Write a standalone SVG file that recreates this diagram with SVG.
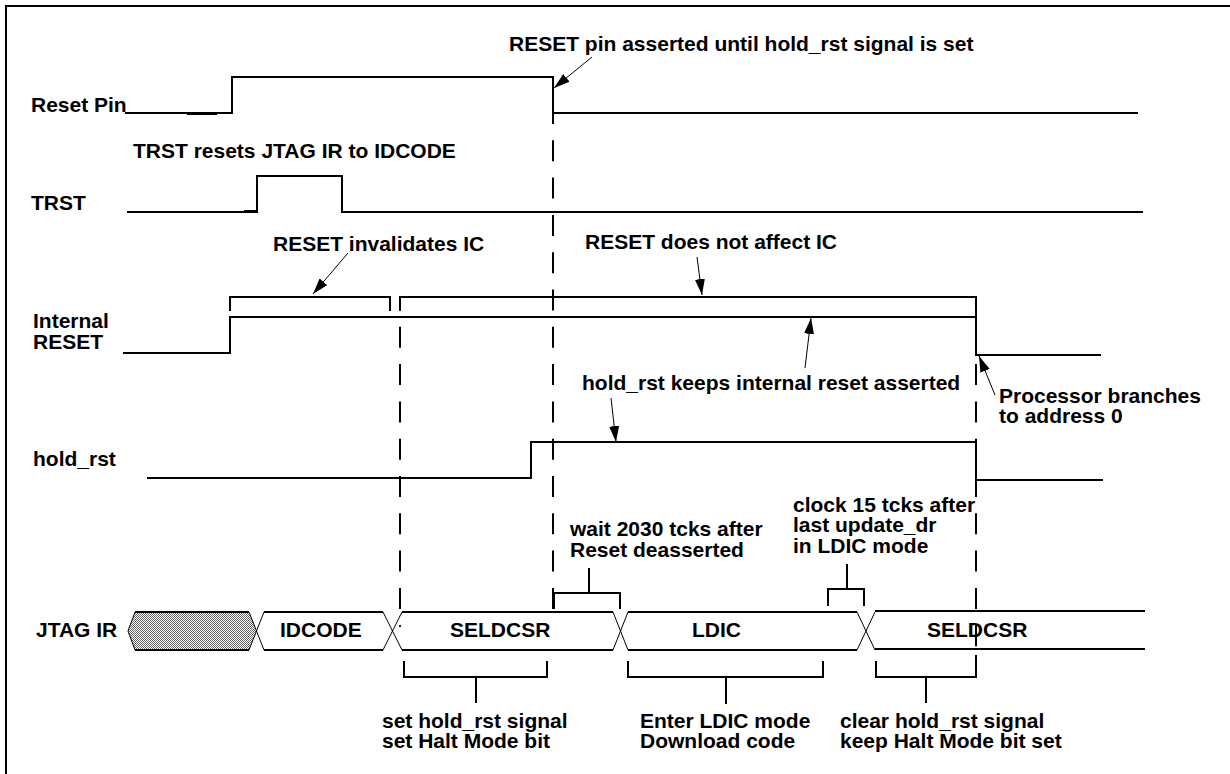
<svg xmlns="http://www.w3.org/2000/svg" width="1230" height="774" viewBox="0 0 1230 774">
<style>
text{font-family:"Liberation Sans",Arial,Helvetica,sans-serif;font-weight:bold;font-size:21px;fill:#000}
.sig{fill:none;stroke:#000;stroke-width:2}
.br{fill:none;stroke:#000;stroke-width:2}
.dash{fill:none;stroke:#000;stroke-width:2;stroke-dasharray:21 16.3}
.bus{fill:none;stroke:#000;stroke-width:2}
.x{fill:none;stroke:#000;stroke-width:1}
.arr{fill:none;stroke:#000;stroke-width:1;marker-end:url(#ah)}
</style>
<defs>
<marker id="ah" markerUnits="userSpaceOnUse" markerWidth="18" markerHeight="12" refX="16" refY="5" orient="auto">
<path d="M0,0 L16,5 L0,10 Z" fill="#000"/>
</marker>
<pattern id="dots" width="2" height="2" patternUnits="userSpaceOnUse">
<rect width="2" height="2" fill="#fff"/>
<rect width="1" height="1" fill="#666"/>
<rect x="1" y="1" width="1" height="1" fill="#666"/>
</pattern>
</defs>
<rect width="1230" height="774" fill="#fff"/>
<rect x="6" y="6" width="1240" height="800" fill="none" stroke="#000" stroke-width="2"/>

<g id="reset-pin">
<text x="31" y="112">Reset Pin</text>
<path class="sig" d="M125,113 H232 V77 H553 V113 H1138"/>
<line x1="187" y1="113.5" x2="217" y2="113.5" stroke="#000" stroke-width="3"/>
</g>

<g id="trst">
<text x="31" y="210">TRST</text>
<path class="sig" d="M127,212 H257 V176 H342 V212 H1143"/>
<line x1="244" y1="211.5" x2="256" y2="211.5" stroke="#000" stroke-width="3"/>
</g>

<g id="internal-reset">
<text x="33" y="328">Internal</text>
<text x="33" y="349">RESET</text>
<path class="sig" d="M123,353 H230 V317 H976 V355 H1101"/>
</g>

<g id="hold-rst">
<text x="33" y="466">hold_rst</text>
<path class="sig" d="M147,478 H531 V442 H976 V480 H1103"/>
</g>

<g id="jtag-ir">
<text x="36" y="637">JTAG IR</text>
<g id="bus-unknown">
<polygon points="128,631 135,612 249,612 256.5,631 249,650 135,650" fill="url(#dots)" stroke="none"/>
<path class="bus" d="M135,612 H249 M135,650 H249"/>
<path class="x" d="M135,612 L128,631 L135,650"/>
</g>
<g id="bus-idcode">
<path class="x" d="M249,612 L264,650 M249,650 L264,612"/>
<path class="bus" d="M264,612 H383 M264,650 H383"/>
<text x="280" y="637">IDCODE</text>
</g>
<g id="bus-seldcsr1">
<path class="x" d="M383,612 L402,650 M383,650 L402,612"/>
<path class="bus" d="M402,612 H613 M402,650 H613"/>
<text x="450" y="637">SELDCSR</text>
</g>
<g id="bus-ldic">
<path class="x" d="M613,612 L628,650 M613,650 L628,612"/>
<path class="bus" d="M628,612 H857 M628,650 H857"/>
<text x="692" y="637">LDIC</text>
</g>
<g id="bus-seldcsr2">
<path class="x" d="M857,612 L875,650 M857,650 L875,612"/>
<path class="bus" d="M875,611 H1145 M875,649 H1145"/>
<text x="927" y="637">SELDCSR</text>
</g>
</g>

<g id="timing-markers">
<line class="dash" x1="400" y1="297" x2="400" y2="627" stroke-dashoffset="7.5"/>
<line class="dash" x1="553" y1="113" x2="553" y2="610" stroke-dashoffset="10"/>
<line class="dash" x1="976" y1="355" x2="976" y2="661" stroke-dashoffset="28.2"/>
</g>

<g id="ic-invalid">
<text x="273" y="251">RESET invalidates IC</text>
<path class="br" d="M230,311 V297 H390 V311"/>
</g>

<g id="ic-unaffected">
<text x="585" y="249">RESET does not affect IC</text>
<path class="br" d="M400,311 V297 H976 V317"/>
</g>

<g id="note-reset-pin">
<text x="509" y="51">RESET pin asserted until hold_rst signal is set</text>
</g>

<g id="note-trst">
<text x="133" y="158">TRST resets JTAG IR to IDCODE</text>
</g>

<g id="note-hold">
<text x="582" y="390">hold_rst keeps internal reset asserted</text>
</g>

<g id="note-branch">
<text x="999" y="403">Processor branches</text>
<text x="999" y="423">to address 0</text>
</g>

<g id="note-wait">
<text x="570" y="536">wait 2030 tcks after</text>
<text x="570" y="557">Reset deasserted</text>
<path class="br" d="M554,609 V593 H620 V609 M589,593 V568"/>
</g>

<g id="note-clock">
<text x="793" y="512">clock 15 tcks after</text>
<text x="793" y="532">last update_dr</text>
<text x="793" y="553">in LDIC mode</text>
<path class="br" d="M828,606 V589 H864 V606 M847,589 V564"/>
</g>

<g id="note-seldcsr1">
<path class="br" d="M404,661 V677 H547 V661 M476,677 V703"/>
<text x="382" y="728">set hold_rst signal</text>
<text x="382" y="748">set Halt Mode bit</text>
</g>

<g id="note-ldic">
<path class="br" d="M628,661 V677 H823 V661 M726,677 V704"/>
<text x="640" y="728">Enter LDIC mode</text>
<text x="640" y="748">Download code</text>
</g>

<g id="note-seldcsr2">
<path class="br" d="M876,661 V677 H976 V655 M926,677 V703"/>
<text x="840" y="728">clear hold_rst signal</text>
<text x="840" y="748">keep Halt Mode bit set</text>
</g>

<g id="connectors">
<line class="arr" x1="592" y1="57" x2="554" y2="88"/>
<line class="arr" x1="348" y1="253" x2="313" y2="294"/>
<line class="arr" x1="697" y1="257" x2="702" y2="295"/>
<line class="arr" x1="805" y1="368" x2="811" y2="318"/>
<line class="arr" x1="611" y1="398" x2="616" y2="442"/>
<line class="arr" x1="995" y1="395" x2="979" y2="356"/>
</g>
</svg>
